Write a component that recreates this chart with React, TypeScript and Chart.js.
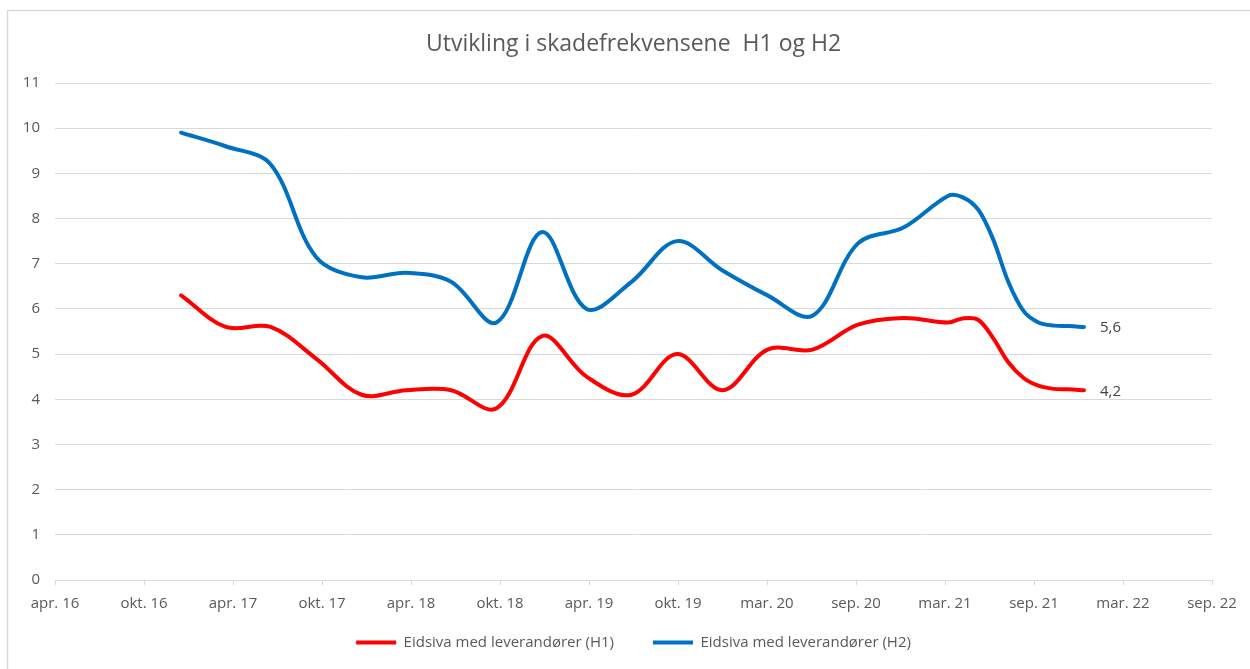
import React, { useEffect, useRef } from "react";
import { Chart, registerables } from "chart.js";

Chart.register(...registerables);

// ---------- data ----------
const TITLE = "Utvikling i skadefrekvensene  H1 og H2";
const AXIS_START = "2016-04-20";
const TICK_STEP_DAYS = 180;
const tickLabels = [
  "apr. 16", "okt. 16", "apr. 17", "okt. 17", "apr. 18", "okt. 18", "apr. 19",
  "okt. 19", "mar. 20", "sep. 20", "mar. 21", "sep. 21", "mar. 22", "sep. 22",
];
const yMin = 0;
const yMax = 11;

const dates = [
  "2016-12-31", "2017-03-31", "2017-06-30", "2017-09-30", "2017-12-31",
  "2018-03-31", "2018-06-30", "2018-09-30", "2018-12-31", "2019-03-31",
  "2019-06-30", "2019-09-30", "2019-12-31", "2020-03-31", "2020-06-30",
  "2020-09-30", "2020-12-31", "2021-03-31", "2021-04-30", "2021-05-31",
  "2021-06-30", "2021-07-31", "2021-08-31", "2021-09-30", "2021-10-31",
  "2021-11-30", "2021-12-31",
];

const seriesNames = [
  "Eidsiva med leverandører (H1)",
  "Eidsiva med leverandører (H2)",
];

const h1Values = [
  6.3, 5.6, 5.6, 4.9, 4.1, 4.2, 4.2, 3.8, 5.4, 4.5, 4.1, 5.0, 4.2, 5.1, 5.1,
  5.65, 5.8, 5.7, 5.79, 5.76, 5.36, 4.82, 4.47, 4.3, 4.23, 4.22, 4.2,
];

const h2Values = [
  9.9, 9.6, 9.2, 7.15, 6.7, 6.8, 6.6, 5.7, 7.7, 6.0, 6.6, 7.5, 6.85, 6.3, 5.85,
  7.45, 7.8, 8.5, 8.47, 8.2, 7.55, 6.6, 5.95, 5.7, 5.63, 5.62, 5.6,
];

// ---------- helpers ----------
const DAY = 24 * 3600 * 1000;
const toDays = (d: string) =>
  Math.round((Date.parse(d + "T00:00:00Z") - Date.parse(AXIS_START + "T00:00:00Z")) / DAY);
const toPoints = (vals: number[]) => vals.map((v, i) => ({ x: toDays(dates[i]), y: v }));
const fmt = (v: number) => String(v).replace(".", ",");

const FONT = "'Open Sans', Lato, sans-serif";
const TEXT = "#595959";
const GRID = "#d9d9d9";
const RED = "#ff0000";
const BLUE = "#0070c0";

const frameAndLabels = {
  id: "frameAndLabels",
  beforeDraw(chart: any) {
    const { ctx, width, height } = chart;
    ctx.save();
    ctx.fillStyle = "#ffffff";
    ctx.fillRect(0, 0, width, height);
    ctx.strokeStyle = GRID;
    ctx.lineWidth = 1.5;
    ctx.strokeRect(7.5, 10.5, width + 100, height + 100);
    ctx.restore();
  },
  afterDatasetsDraw(chart: any) {
    const { ctx } = chart;
    ctx.save();
    ctx.font = `15px ${FONT}`;
    ctx.fillStyle = "#404040";
    ctx.textAlign = "left";
    ctx.textBaseline = "middle";
    chart.data.datasets.forEach((ds: any, i: number) => {
      const meta = chart.getDatasetMeta(i);
      const last = meta.data[meta.data.length - 1];
      const v = ds.data[ds.data.length - 1].y;
      ctx.fillText(fmt(v), last.x + 16, last.y + 1);
    });
    ctx.restore();
  },
};

export default function App() {
  const ref = useRef<HTMLCanvasElement>(null);

  useEffect(() => {
    if (!ref.current) return;
    const mk = (label: string, vals: number[], color: string) => ({
      label,
      data: toPoints(vals),
      borderColor: color,
      backgroundColor: color,
      borderWidth: 4,
      borderCapStyle: "round" as const,
      borderJoinStyle: "round" as const,
      tension: 0.35,
      pointRadius: 0,
      pointHoverRadius: 0,
      pointStyle: "line" as const,
      pointBorderColor: color,
      pointBackgroundColor: color,
      pointBorderWidth: 4,
      fill: false,
    });

    const chart = new Chart(ref.current, {
      type: "line",
      data: {
        datasets: [
          mk(seriesNames[0], h1Values, RED),
          mk(seriesNames[1], h2Values, BLUE),
        ],
      },
      options: {
        animation: false,
        responsive: false,
        maintainAspectRatio: false,
        layout: { padding: { left: 0, right: 38, top: 0, bottom: 9 } },
        plugins: {
          title: {
            display: true,
            text: TITLE,
            color: TEXT,
            fullSize: false,
            font: { family: FONT, size: 23, weight: "normal" },
            padding: { top: 31, bottom: 24.4 },
          },
          legend: {
            position: "bottom",
            fullSize: false,
            labels: {
              usePointStyle: true,
              pointStyleWidth: 40,
              padding: 39,
              color: TEXT,
              font: { family: FONT, size: 15 },
            },
          },
          tooltip: { enabled: false },
        },
        scales: {
          x: {
            type: "linear",
            min: 0,
            max: TICK_STEP_DAYS * (tickLabels.length - 1),
            afterFit: (s: any) => {
              s.height = 16;
            },
            grid: {
              display: true,
              drawOnChartArea: false,
              drawTicks: true,
              tickLength: 5,
              color: GRID,
            },
            border: { display: true, color: GRID, width: 1 },
            ticks: {
              stepSize: TICK_STEP_DAYS,
              autoSkip: false,
              maxRotation: 0,
              mirror: true,
              padding: -33,
              color: TEXT,
              font: { family: FONT, size: 15 },
              callback: (v: any) => tickLabels[Math.round(Number(v) / TICK_STEP_DAYS)] ?? "",
            },
          },
          y: {
            min: yMin,
            max: yMax,
            afterFit: (s: any) => {
              s.width = 55;
            },
            grid: { color: GRID, drawTicks: false, lineWidth: 1 },
            border: { display: false },
            ticks: {
              stepSize: 1,
              padding: 15,
              color: TEXT,
              font: { family: FONT, size: 15 },
            },
          },
        },
      },
      plugins: [frameAndLabels],
    });
    return () => chart.destroy();
  }, []);

  return (
    <div style={{ position: "absolute", left: 0, top: 0, width: 1250, height: 669, background: "#fff" }}>
      <canvas ref={ref} width={1250} height={669} style={{ display: "block", width: 1250, height: 669 }} />
    </div>
  );
}
